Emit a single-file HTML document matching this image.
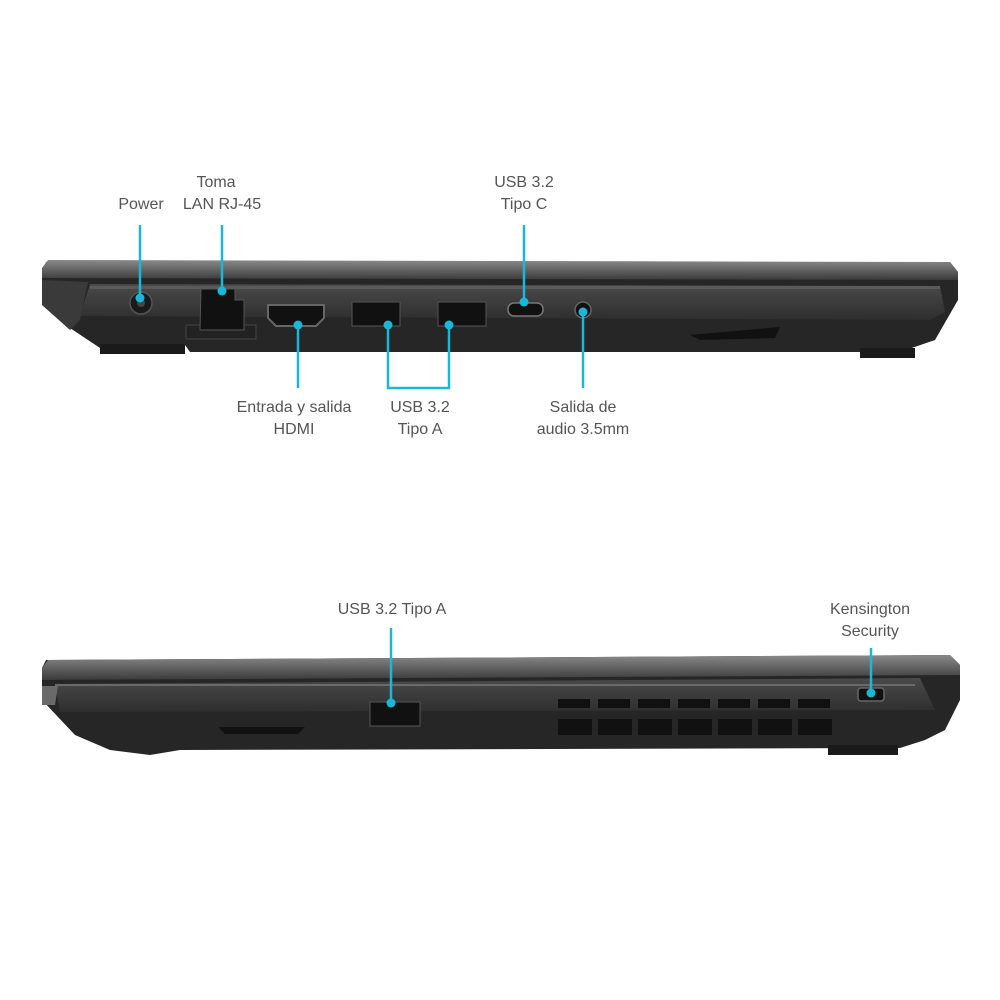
<!DOCTYPE html>
<html><head><meta charset="utf-8"><style>
html,body{margin:0;padding:0;background:#fff}
svg{display:block}
text{font-family:"Liberation Sans",sans-serif;font-size:16px;fill:#555;text-anchor:middle}
</style></head><body>
<svg width="1000" height="1000" viewBox="0 0 1000 1000">
<defs>
<linearGradient id="lid" x1="0" y1="0" x2="0" y2="1"><stop offset="0" stop-color="#8a8a8a"/><stop offset="1" stop-color="#3a3a3a"/></linearGradient>
<linearGradient id="panel" x1="0" y1="0" x2="0" y2="1"><stop offset="0" stop-color="#4a4a4a"/><stop offset="1" stop-color="#2e2e2e"/></linearGradient>
</defs>
<!-- TOP LAPTOP -->
<path d="M46 262 L950 262 L958 272 L958 300 L935 340 L900 352 L190 352 L185 345 L100 348 L70 328 L42 300 L42 272 Z" fill="#262626"/>
<path d="M48 260 L950 262 L958 272 L958 280 L42 278 L42 268 Z" fill="url(#lid)"/>
<path d="M90 284 L940 286 L945 312 L930 320 L80 316 Z" fill="url(#panel)"/>
<rect x="90" y="286" width="850" height="3" fill="#5a5a5a"/>
<path d="M42 280 L88 282 L80 320 L70 330 L42 305 Z" fill="#3a3a3a"/>
<path d="M690 335 L780 327 L775 338 L700 340Z" fill="#111"/>
<rect x="860" y="348" width="55" height="10" fill="#1a1a1a"/>
<rect x="100" y="344" width="85" height="10" fill="#1a1a1a"/>
<!-- ports -->
<circle cx="141" cy="303" r="11" fill="#1a1a1a" stroke="#555" stroke-width="1.5"/><circle cx="141" cy="303" r="4" fill="#444"/>
<rect x="186" y="325" width="70" height="14" fill="#222" stroke="#444"/>
<path d="M201 289 L235 289 L235 300 L244 300 L244 330 L200 330 Z" fill="#111" stroke="#555"/>
<path d="M268 305 L324 305 L324 318 L316 326 L276 326 L268 318 Z" fill="#111" stroke="#666" stroke-width="2"/>
<rect x="352" y="302" width="48" height="24" fill="#111" stroke="#555"/>
<rect x="438" y="302" width="48" height="24" fill="#111" stroke="#555"/>
<rect x="508" y="303" width="35" height="13" rx="6" fill="#111" stroke="#777" stroke-width="1.5"/>
<circle cx="583" cy="310" r="8" fill="#111" stroke="#666" stroke-width="1.5"/>
<!-- BOTTOM LAPTOP -->
<path d="M46 660 L950 655 L960 665 L960 700 L945 730 L925 740 L900 748 L180 750 L150 755 L110 750 L75 735 L42 700 L42 668 Z" fill="#262626"/>
<path d="M48 660 L950 655 L960 665 L960 675 L42 680 L42 668 Z" fill="url(#lid)"/>
<path d="M55 684 L920 678 L935 710 L60 712 Z" fill="url(#panel)"/>
<rect x="55" y="684" width="860" height="2" fill="#6a6a6a"/>
<path d="M42 686 L58 686 L55 705 L42 705 Z" fill="#6a6a6a"/>
<path d="M218 727 L305 727 L298 734 L225 734Z" fill="#111"/>
<rect x="370" y="702" width="50" height="24" fill="#111" stroke="#555"/>
<g fill="#111">
<rect x="558" y="699" width="32" height="9"/><rect x="598" y="699" width="32" height="9"/><rect x="638" y="699" width="32" height="9"/><rect x="678" y="699" width="32" height="9"/><rect x="718" y="699" width="32" height="9"/><rect x="758" y="699" width="32" height="9"/><rect x="798" y="699" width="32" height="9"/>
<rect x="558" y="719" width="34" height="16"/><rect x="598" y="719" width="34" height="16"/><rect x="638" y="719" width="34" height="16"/><rect x="678" y="719" width="34" height="16"/><rect x="718" y="719" width="34" height="16"/><rect x="758" y="719" width="34" height="16"/><rect x="798" y="719" width="34" height="16"/>
</g>
<rect x="858" y="688" width="26" height="13" rx="3" fill="#111" stroke="#666" stroke-width="1.5"/>
<rect x="828" y="745" width="70" height="10" fill="#1a1a1a"/>
<!-- CONNECTORS -->
<g stroke="#1ab8d8" stroke-width="2.5" fill="none">
<path d="M140 225 V298"/><path d="M222 225 V291"/><path d="M298 325 V388"/>
<path d="M388 325 V388 H449 V325"/><path d="M524 225 V302"/><path d="M583 312 V388"/>
<path d="M391 628 V703"/><path d="M871 648 V693"/>
</g>
<g fill="#1ab8d8">
<circle cx="140" cy="298" r="4.5"/><circle cx="222" cy="291" r="4.5"/><circle cx="298" cy="325" r="4.5"/>
<circle cx="388" cy="325" r="4.5"/><circle cx="449" cy="325" r="4.5"/><circle cx="524" cy="302" r="4.5"/>
<circle cx="583" cy="312" r="4.5"/><circle cx="391" cy="703" r="4.5"/><circle cx="871" cy="693" r="4.5"/>
</g>
<!-- LABELS -->
<text x="141" y="209">Power</text>
<text x="216" y="187">Toma</text><text x="222" y="209">LAN RJ-45</text>
<text x="524" y="187">USB 3.2</text><text x="524" y="209">Tipo C</text>
<text x="294" y="412">Entrada y salida</text><text x="294" y="434">HDMI</text>
<text x="420" y="412">USB 3.2</text><text x="420" y="434">Tipo A</text>
<text x="583" y="412">Salida de</text><text x="583" y="434">audio 3.5mm</text>
<text x="392" y="614">USB 3.2 Tipo A</text>
<text x="870" y="614">Kensington</text><text x="870" y="636">Security</text>
</svg>
</body></html>
